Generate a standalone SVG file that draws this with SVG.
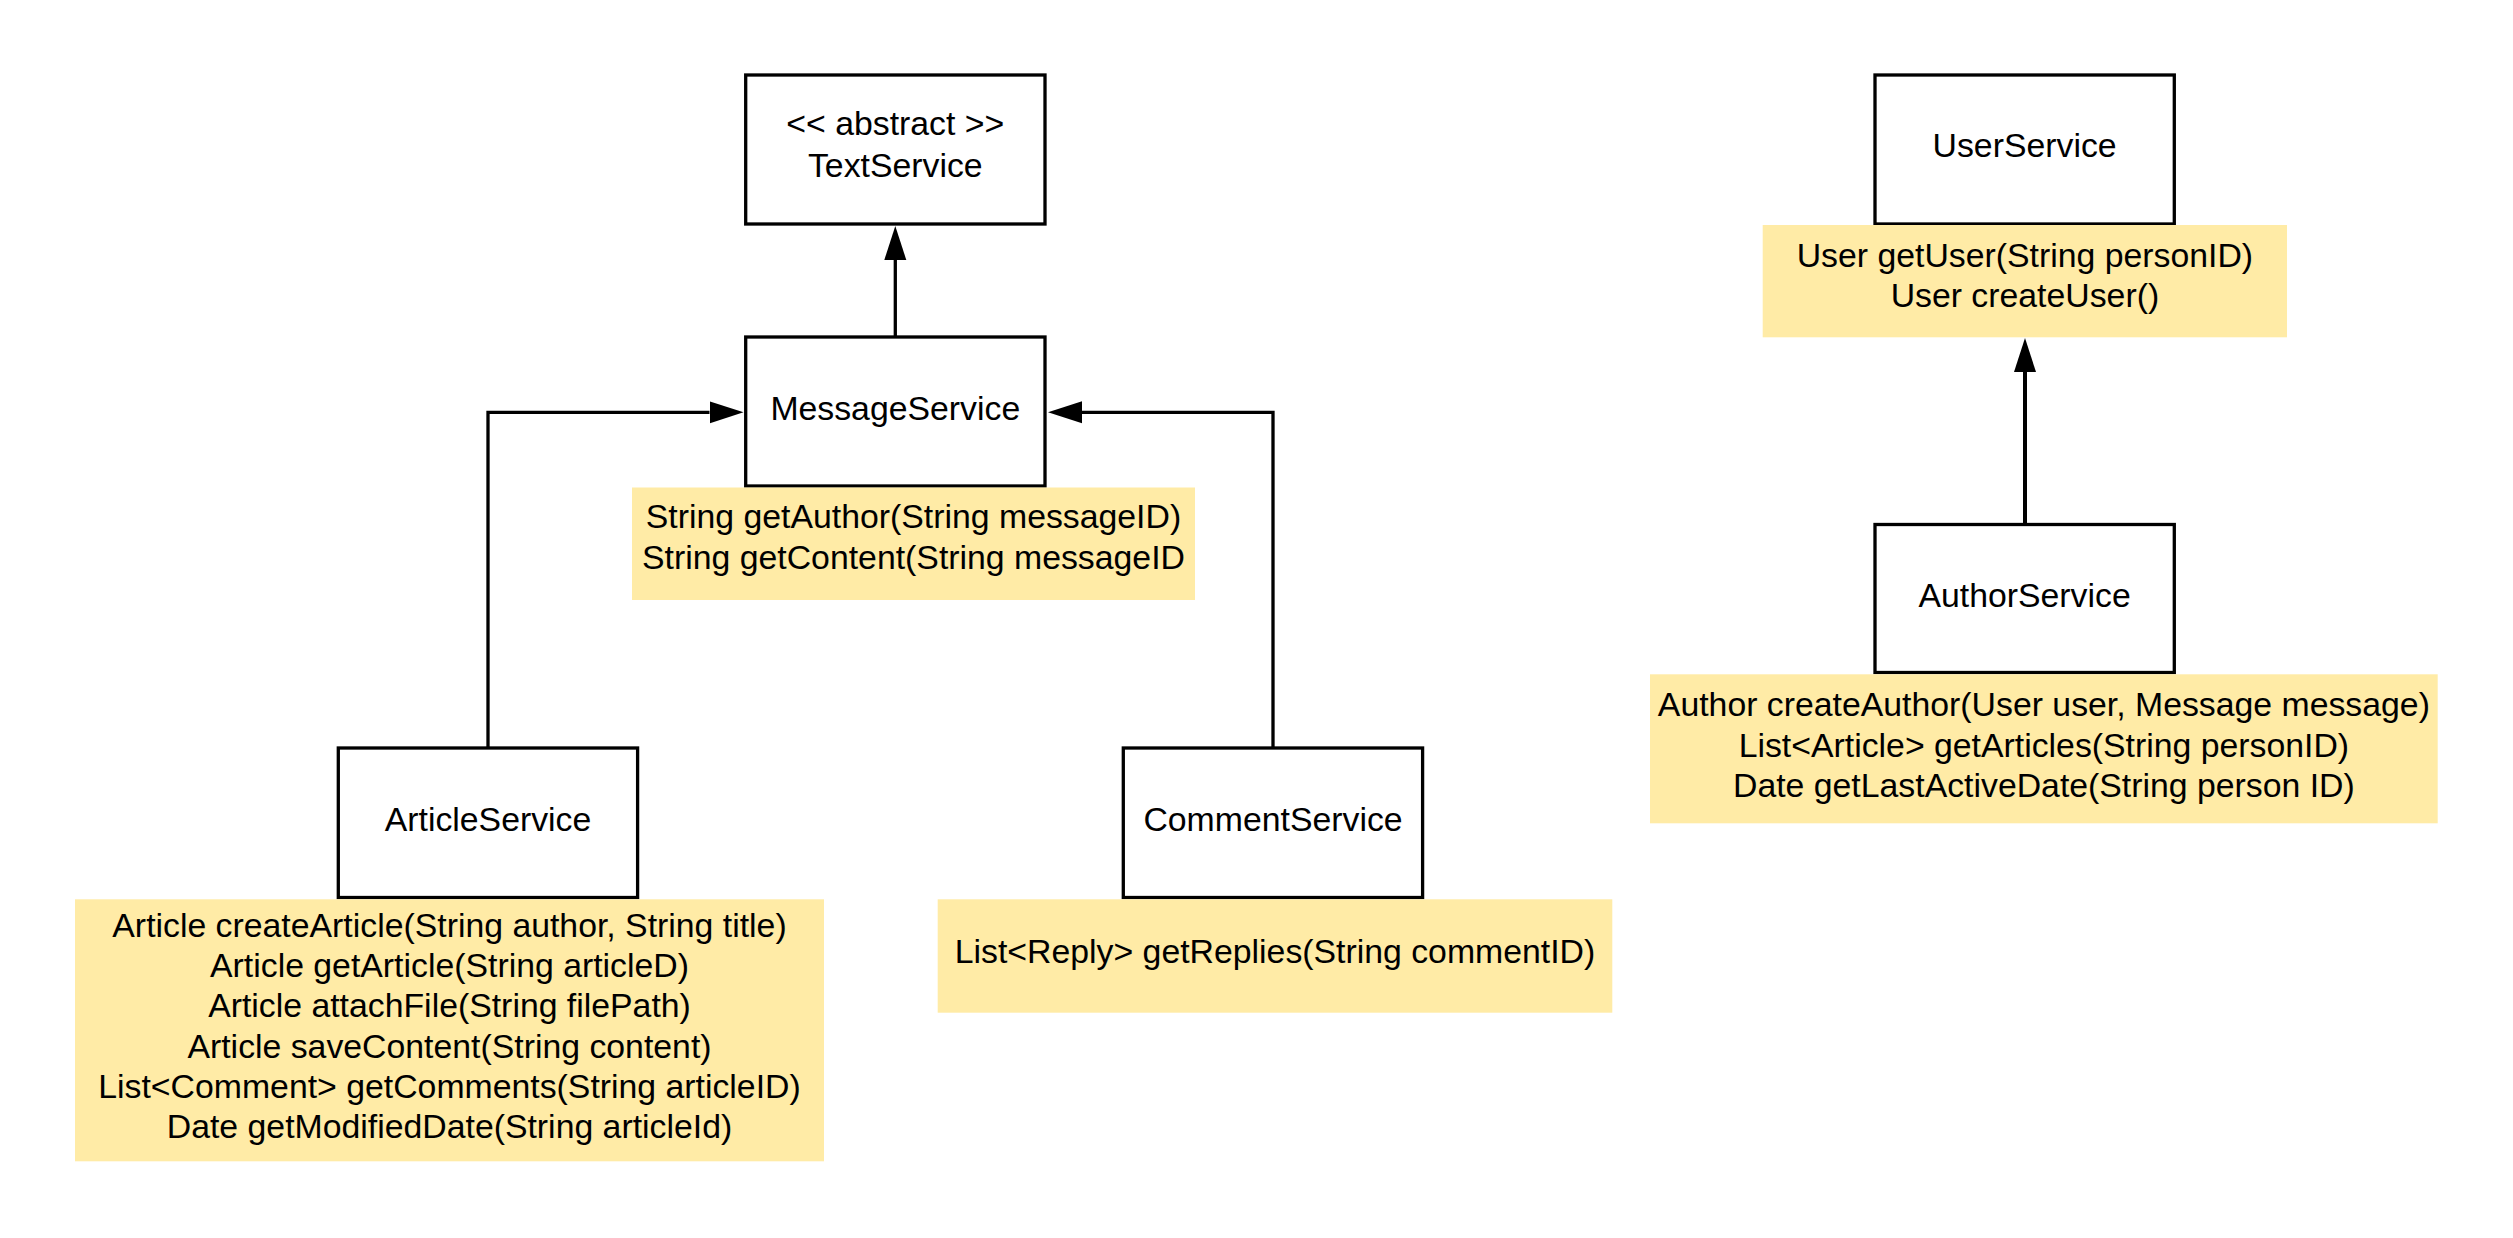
<svg xmlns="http://www.w3.org/2000/svg" width="2513" height="1238" viewBox="0 0 2513 1238">
<style>
.box{fill:#ffffff;stroke:#000000;stroke-width:3.3}
.note{fill:#FFEBA6;stroke:none}
.t{font-family:"Liberation Sans",Arial,sans-serif;font-size:33.8px;fill:#000000;text-anchor:middle}
.conn{fill:none;stroke:#000000;stroke-width:3.3}
</style>
<defs>
<marker id="arr" markerUnits="userSpaceOnUse" markerWidth="36" markerHeight="24" refX="0" refY="12" orient="auto" viewBox="0 0 36 24">
<path d="M0,1 L34,12 L0,23 z" fill="#000000"/>
</marker>
</defs>
<rect width="2513" height="1238" fill="#ffffff"/>
<g id="connectors">
<path class="conn" d="M895.3,337 V260" marker-end="url(#arr)"/>
<path class="conn" d="M488,748 V412.3 H709.5" marker-end="url(#arr)"/>
<path class="conn" d="M1273,748 V412.3 H1082" marker-end="url(#arr)"/>
<path class="conn" style="stroke-width:4" d="M2025,524 V372" marker-end="url(#arr)"/>
</g>
<g id="TextService">
<rect class="box" x="745.7" y="75" width="299.3" height="149"/>
<text class="t" x="895.3" y="135">&lt;&lt; abstract &gt;&gt;</text>
<text class="t" x="895.3" y="176.7">TextService</text>
</g>
<g id="MessageService">
<rect class="box" x="745.7" y="337" width="299.3" height="149"/>
<text class="t" x="895.3" y="420">MessageService</text>
</g>
<g id="MessageServiceMethods">
<rect class="note" x="632" y="487.5" width="563" height="112.5"/>
<text class="t" x="913.5" y="528.3">String getAuthor(String messageID)</text>
<text class="t" x="913.5" y="569">String getContent(String messageID</text>
</g>
<g id="ArticleService">
<rect class="box" x="338.3" y="748" width="299.3" height="149.5"/>
<text class="t" x="488" y="831">ArticleService</text>
</g>
<g id="ArticleServiceMethods">
<rect class="note" x="75" y="899.3" width="749" height="262"/>
<text class="t" x="449.5" y="936.7">Article createArticle(String author, String title)</text>
<text class="t" x="449.5" y="977">Article getArticle(String articleD)</text>
<text class="t" x="449.5" y="1017.3">Article attachFile(String filePath)</text>
<text class="t" x="449.5" y="1057.6">Article saveContent(String content)</text>
<text class="t" x="449.5" y="1097.9">List&lt;Comment&gt; getComments(String articleID)</text>
<text class="t" x="449.5" y="1138.2">Date getModifiedDate(String articleId)</text>
</g>
<g id="CommentService">
<rect class="box" x="1123.3" y="748" width="299.3" height="149.5"/>
<text class="t" x="1273" y="831">CommentService</text>
</g>
<g id="CommentServiceMethods">
<rect class="note" x="937.7" y="899.3" width="674.6" height="113.4"/>
<text class="t" x="1275" y="963.3">List&lt;Reply&gt; getReplies(String commentID)</text>
</g>
<g id="UserService">
<rect class="box" x="1875" y="75" width="299.3" height="149"/>
<text class="t" x="2024.6" y="157">UserService</text>
</g>
<g id="UserServiceMethods">
<rect class="note" x="1762.7" y="225" width="524.3" height="112.3"/>
<text class="t" x="2024.9" y="266.7">User getUser(String personID)</text>
<text class="t" x="2024.9" y="307.3">User createUser()</text>
</g>
<g id="AuthorService">
<rect class="box" x="1875" y="524.5" width="299.3" height="148"/>
<text class="t" x="2024.6" y="607">AuthorService</text>
</g>
<g id="AuthorServiceMethods">
<rect class="note" x="1650" y="674.3" width="787.7" height="149"/>
<text class="t" x="2043.9" y="716">Author createAuthor(User user, Message message)</text>
<text class="t" x="2043.9" y="756.7">List&lt;Article&gt; getArticles(String personID)</text>
<text class="t" x="2043.9" y="796.7">Date getLastActiveDate(String person ID)</text>
</g>
</svg>
